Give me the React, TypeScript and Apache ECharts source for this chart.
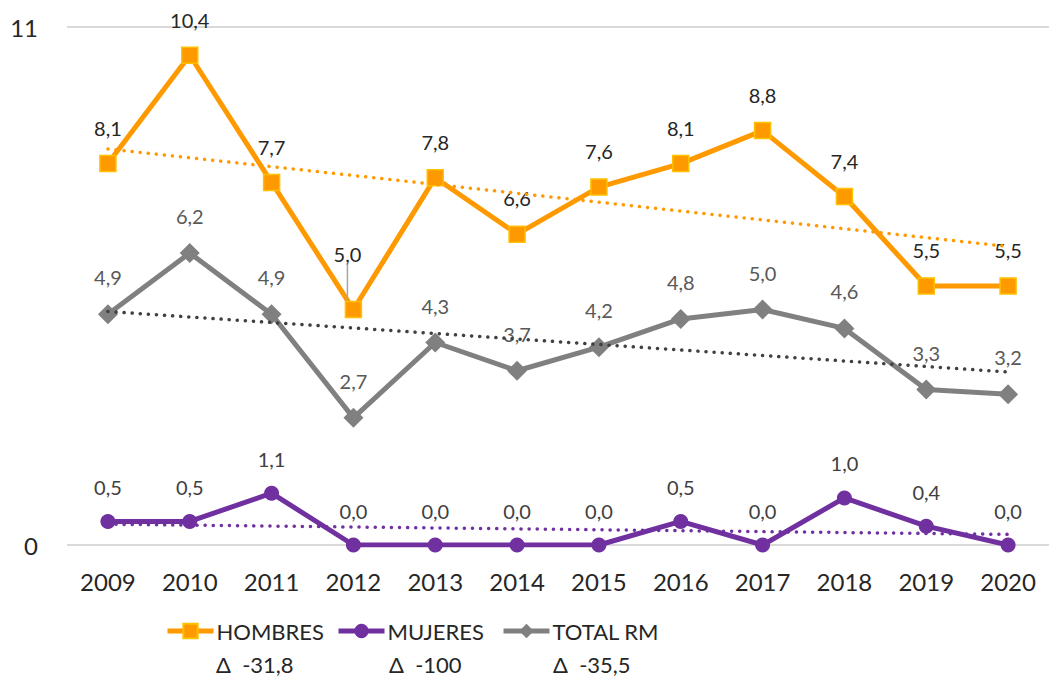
import React, { useEffect, useRef } from "react";
import * as echarts from "echarts";

const years = ["2009", "2010", "2011", "2012", "2013", "2014", "2015", "2016", "2017", "2018", "2019", "2020"];
const hombres = [8.1, 10.4, 7.7, 5.0, 7.8, 6.6, 7.6, 8.1, 8.8, 7.4, 5.5, 5.5];
const mujeres = [0.5, 0.5, 1.1, 0.0, 0.0, 0.0, 0.0, 0.5, 0.0, 1.0, 0.4, 0.0];
const totalRM = [4.9, 6.2, 4.9, 2.7, 4.3, 3.7, 4.2, 4.8, 5.0, 4.6, 3.3, 3.2];
const yTicks = [0, 11];
const deltas = ["Δ  -31,8", "Δ  -100", "Δ  -35,5"];
const names = ["HOMBRES", "MUJERES", "TOTAL RM"];

const FONT = "Lato, 'Noto Sans', sans-serif";

function trend(vals: number[]): number[] {
  const n = vals.length;
  const xm = (n - 1) / 2;
  const ym = vals.reduce((a, b) => a + b, 0) / n;
  let sxy = 0;
  let sxx = 0;
  vals.forEach((v, i) => {
    sxy += (i - xm) * (v - ym);
    sxx += (i - xm) * (i - xm);
  });
  const b = sxy / sxx;
  const a = ym - b * xm;
  return vals.map((_, i) => a + b * i);
}

const fmt = (v: number) => v.toFixed(1).replace(".", ",");

export default function App() {
  const ref = useRef<HTMLDivElement>(null);
  useEffect(() => {
    if (!ref.current) return;
    const chart = echarts.init(ref.current, undefined, { renderer: "svg" });
    const labelBase = (color: string) => ({
      show: true,
      position: "top" as const,
      distance: 17,
      fontFamily: FONT,
      fontSize: 20,
      color,
      formatter: (p: any) => fmt(p.value),
    });
    const trendStyle = (color: string) => ({
      type: "line",
      data: [] as number[],
      showSymbol: false,
      symbol: "none",
      silent: true,
      z: 5,
      lineStyle: { color, width: 3.5, type: [0.1, 8] as any, cap: "round" as const },
    });
    chart.setOption({
      animation: false,
      grid: { left: 67, top: 27, width: 992, height: 518 },
      xAxis: {
        type: "category",
        data: years,
        boundaryGap: true,
        axisLine: { show: false },
        axisTick: { show: false },
        axisLabel: { fontFamily: FONT, fontSize: 24, color: "#262626", margin: 24 },
      },
      yAxis: {
        type: "value",
        min: yTicks[0],
        max: yTicks[1],
        interval: yTicks[1],
        axisLabel: { fontFamily: FONT, fontSize: 24, color: "#262626", margin: 29 },
        splitLine: { lineStyle: { color: "#D9D9D9", width: 2 } },
        axisLine: { show: false },
        axisTick: { show: false },
      },
      legend: [0, 1, 2].map((i) => ({
        data: [names[i]],
        left: [165, 336, 501][i],
        top: 620,
        padding: 0,
        itemWidth: 46,
        itemHeight: 18,
        itemGap: 4,
        lineStyle: { width: 5 },
        textStyle: { fontFamily: FONT, fontSize: 22, color: "#262626", padding: [0, 0, 0, -2] },
      })),
      graphic: deltas.map((d, i) => ({
        type: "text",
        left: [216, 389, 553][i],
        top: 653,
        style: { text: d, font: `22px ${FONT}`, fill: "#262626" },
      })),
      labelLayout: (p: any) => (p.seriesIndex === 0 && p.dataIndex === 3 ? { dx: -6, dy: -20 } : {}),
      series: [
        {
          name: names[0],
          type: "line",
          data: hombres.map((v, i) =>
            i === 3
              ? { value: v, labelLine: { show: true, lineStyle: { color: "#A6A6A6", width: 1.5 } } }
              : v
          ),
          symbol: "rect",
          symbolSize: 16,
          z: 3,
          lineStyle: { color: "#FF9900", width: 5 },
          itemStyle: { color: "#FF9900", borderColor: "#FFC000", borderWidth: 1.5 },
          label: labelBase("#262626"),
        },
        {
          name: names[1],
          type: "line",
          data: mujeres,
          symbol: "circle",
          symbolSize: 15,
          z: 3,
          lineStyle: { color: "#7030A0", width: 5 },
          itemStyle: { color: "#7030A0" },
          label: labelBase("#404040"),
        },
        {
          name: names[2],
          type: "line",
          data: totalRM,
          symbol: "diamond",
          symbolSize: 20,
          z: 3,
          lineStyle: { color: "#808080", width: 5 },
          itemStyle: { color: "#808080" },
          label: labelBase("#595959"),
        },
        { ...trendStyle("#FF9900"), name: "tH", data: trend(hombres) },
        { ...trendStyle("#7030A0"), name: "tM", data: trend(mujeres) },
        { ...trendStyle("#404040"), name: "tT", data: trend(totalRM) },
      ],
    });
    return () => chart.dispose();
  }, []);
  return <div ref={ref} style={{ width: 1049, height: 679, position: "absolute", left: 0, top: 0 }} />;
}
